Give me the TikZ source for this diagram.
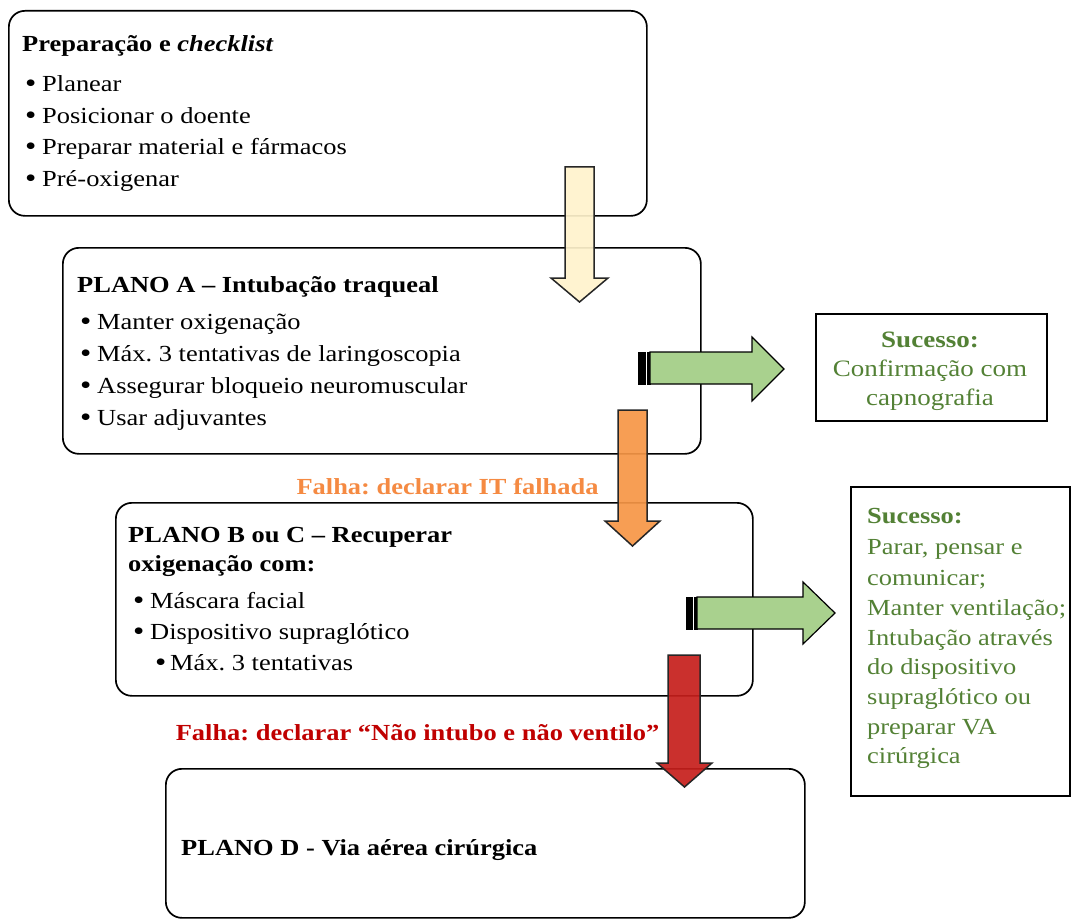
\documentclass[tikz,border=0pt]{standalone}
\usepackage{fontspec}
\setmainfont[FakeStretch=1.15]{Liberation Serif}
\frenchspacing

\definecolor{cream}{HTML}{FFF2CC}
\definecolor{orangefill}{HTML}{F79646}
\definecolor{orangetext}{HTML}{F58A42}
\definecolor{redfill}{HTML}{C61F1C}
\definecolor{redtext}{HTML}{C00000}
\definecolor{greenfill}{HTML}{A9D18E}
\definecolor{greentext}{HTML}{538135}
\definecolor{edge}{HTML}{262626}

\tikzset{
  plan/.style={draw=black, line width=1.7pt, rounded corners=16pt, anchor=north west, inner sep=0pt},
  okbox/.style={draw=black, line width=1.7pt, anchor=north west, inner sep=0pt},
  txt/.style={anchor=base west, inner sep=0pt, font=\fontsize{23}{30}\selectfont},
  ttl/.style={txt, font=\fontsize{23}{30}\selectfont\bfseries},
  oktxt/.style={anchor=base, inner sep=0pt, text=greentext, font=\fontsize{23.5}{30}\selectfont},
  oktxtl/.style={anchor=base west, inner sep=0pt, text=greentext, font=\fontsize{23}{30}\selectfont},
  failtxt/.style={anchor=base, inner sep=0pt, font=\fontsize{23}{30}\selectfont\bfseries},
  downarrow/.style={draw=edge, line width=1.5pt, line join=miter, fill opacity=0.92},
  rightarrow/.style={draw=black, line width=1.2pt, line join=miter, fill=greenfill},
  stripe/.style={fill=black, draw=black, line width=0.5pt},
}

\newcommand\bul{\makebox[17pt][l]{\raisebox{-1pt}{\fontsize{28}{30}\selectfont\textbullet}}}
\newcommand\subbul{\makebox[15pt][l]{\raisebox{-1pt}{\fontsize{28}{30}\selectfont\textbullet}}}

\begin{document}
\begin{tikzpicture}[x=1pt, y=-1pt]
\clip (0,0) rectangle (1073,920);
\fill[white] (0,0) rectangle (1073,920);

% ---- plan boxes ----
\node[plan, minimum width=638pt, minimum height=205pt] (prep) at (8,10) {};
\node[plan, minimum width=638pt, minimum height=206pt] (planA) at (62,247) {};
\node[plan, minimum width=637pt, minimum height=193pt] (planBC) at (115,502) {};
\node[plan, minimum width=639pt, minimum height=149pt] (planD) at (165,768) {};

% ---- success boxes ----
\node[okbox, minimum width=231pt, minimum height=107pt] (okA) at (815,313) {};
\node[okbox, minimum width=219pt, minimum height=309pt] (okBC) at (850,486) {};

% ---- block arrows down ----
\draw[downarrow, fill=cream]
  (565,167) -- (594,167) -- (594,278) -- (608,278) -- (579.5,302) -- (551,278) -- (565,278) -- cycle;
\draw[downarrow, fill=orangefill]
  (618,410) -- (647,410) -- (647,521) -- (660,521) -- (632.5,546) -- (605,521) -- (618,521) -- cycle;
\draw[downarrow, fill=redfill]
  (668,655) -- (700,655) -- (700,763) -- (712,763) -- (684.5,787) -- (657,763) -- (668,763) -- cycle;

% ---- striped block arrows right ----
\fill[stripe] (638,352) rectangle (645,384);
\fill[stripe] (647,352) rectangle (650,384);
\draw[rightarrow]
  (650,352) -- (752,352) -- (752,337) -- (784,369) -- (752,401) -- (752,384) -- (650,384) -- cycle;
\fill[stripe] (686,597) rectangle (692,629);
\fill[stripe] (694,597) rectangle (697,629);
\draw[rightarrow]
  (697,597) -- (803,597) -- (803,582) -- (835,613) -- (803,644) -- (803,629) -- (697,629) -- cycle;

% ---- preparation ----
\node[ttl] (prep-t) at (22,52) {Preparação e \textit{checklist}};
\node[txt] (prep-1) at (25,92) {\bul Planear};
\node[txt] (prep-2) at (25,123.5) {\bul Posicionar o doente};
\node[txt] (prep-3) at (25,155) {\bul Preparar material e fármacos};
\node[txt] (prep-4) at (25,187) {\bul Pré-oxigenar};

% ---- plan A ----
\node[ttl] (planA-t) at (77,292) {PLANO A – Intubação traqueal};
\node[txt] (planA-1) at (80,329) {\bul Manter oxigenação};
\node[txt] (planA-2) at (80,361) {\bul Máx. 3 tentativas de laringoscopia};
\node[txt] (planA-3) at (80,393) {\bul Assegurar bloqueio neuromuscular};
\node[txt] (planA-4) at (80,425) {\bul Usar adjuvantes};

% ---- plan B/C ----
\node[ttl] (planBC-t1) at (128,542) {PLANO B ou C – Recuperar};
\node[ttl] (planBC-t2) at (128,571) {oxigenação com:};
\node[txt] (planBC-1) at (133,608) {\bul Máscara facial};
\node[txt] (planBC-2) at (133,639) {\bul Dispositivo supraglótico};
\node[txt] (planBC-3) at (155,670) {\subbul Máx. 3 tentativas};

% ---- plan D ----
\node[ttl] (planD-t) at (181,855) {PLANO D - Via aérea cirúrgica};

% ---- failure labels ----
\node[failtxt, text=orangetext] (failA) at (447.5,494) {Falha: declarar IT falhada};
\node[failtxt, text=redtext] (failBC) at (417.5,740) {Falha: declarar “Não intubo e não ventilo”};

% ---- success texts ----
\node[oktxt, font=\fontsize{23.5}{30}\selectfont\bfseries] (okA-t) at (930,347) {Sucesso:};
\node[oktxt] (okA-1) at (930,376) {Confirmação com};
\node[oktxt] (okA-2) at (930,405) {capnografia};

\node[oktxtl, font=\fontsize{23}{30}\selectfont\bfseries] (okBC-t) at (867,523) {Sucesso:};
\node[oktxtl] (okBC-1) at (867,554) {Parar, pensar e};
\node[oktxtl] (okBC-2) at (867,585) {comunicar;};
\node[oktxtl] (okBC-3) at (867,615) {Manter ventilação;};
\node[oktxtl] (okBC-4) at (867,645) {Intubação através};
\node[oktxtl] (okBC-5) at (867,674) {do dispositivo};
\node[oktxtl] (okBC-6) at (867,704) {supraglótico ou};
\node[oktxtl] (okBC-7) at (867,734) {preparar VA};
\node[oktxtl] (okBC-8) at (867,763) {cirúrgica};
\end{tikzpicture}
\end{document}
